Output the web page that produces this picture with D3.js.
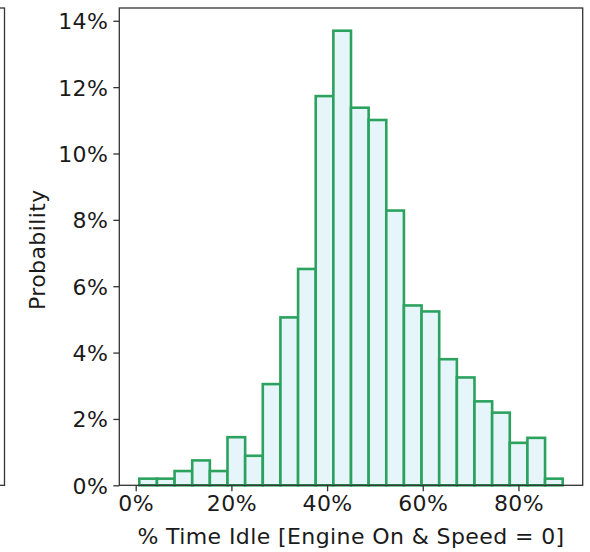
<!DOCTYPE html>
<html>
<head>
<meta charset="utf-8">
<script src="https://cdn.jsdelivr.net/npm/d3@7"></script>
<style>
  html, body { margin: 0; padding: 0; background: #fff; }
  svg { display: block; font-family: "DejaVu Sans", sans-serif; }
</style>
</head>
<body>
<svg id="chart" width="590" height="552"></svg>
<script>
// Histogram of the share of time spent idling (engine on, speed zero).
// 24 equal-width bins between binLow and binHigh (in %), heights are probabilities (%).
const binLow = 0.75;
const binHigh = 89.25;
const probabilities = [
  0.20, 0.20, 0.43, 0.75, 0.43, 1.45, 0.89, 3.05, 5.06, 6.52, 11.73, 13.70,
  11.38, 11.01, 8.28, 5.42, 5.24, 3.80, 3.25, 2.53, 2.19, 1.28, 1.43, 0.20
];
const xTicks = [0, 20, 40, 60, 80];
const yTicks = [0, 2, 4, 6, 8, 10, 12, 14];
const xLabel = "% Time Idle [Engine On & Speed = 0]";
const yLabel = "Probability";

const svg = d3.select("#chart");
const plot = { left: 119.3, right: 582.7, top: 8, bottom: 485.3 };
const fontSize = "22px";
const spacing = "0.4px";

const binWidth = (binHigh - binLow) / probabilities.length;
const bins = probabilities.map((p, i) => ({
  x0: binLow + i * binWidth,
  x1: binLow + (i + 1) * binWidth,
  p
}));

const pad = 4.18;
const x = d3.scaleLinear()
  .domain([binLow - pad, binHigh + pad])
  .range([plot.left, plot.right]);
const yMax = d3.max(probabilities) * 1.05;
const y = d3.scaleLinear()
  .domain([0, yMax])
  .range([plot.bottom, plot.top]);

// Edge of the neighbouring panel on the left
svg.append("rect")
  .attr("x", -10).attr("y", plot.top)
  .attr("width", 14.5).attr("height", plot.bottom - plot.top)
  .attr("fill", "none").attr("stroke", "#333").attr("stroke-width", 1.3);

// Bars
svg.append("g")
  .selectAll("rect")
  .data(bins)
  .join("rect")
  .attr("x", d => x(d.x0))
  .attr("y", d => y(d.p))
  .attr("width", d => x(d.x1) - x(d.x0))
  .attr("height", d => y(0) - y(d.p))
  .attr("fill", "#e5f5f9")
  .attr("stroke", "#2ca25f")
  .attr("stroke-width", 2.6);

// Axes
const fmt = d => d + "%";
const xAxis = svg.append("g")
  .attr("transform", `translate(0,${plot.bottom})`)
  .call(d3.axisBottom(x).tickValues(xTicks).tickFormat(fmt).tickSize(6).tickPadding(4));
const yAxis = svg.append("g")
  .attr("transform", `translate(${plot.left},0)`)
  .call(d3.axisLeft(y).tickValues(yTicks).tickFormat(fmt).tickSize(6).tickPadding(5));

[xAxis, yAxis].forEach(g => {
  g.select(".domain").remove();
  g.selectAll(".tick line").attr("stroke", "#333").attr("stroke-width", 1.3);
  g.selectAll(".tick text")
    .attr("fill", "#1a1a1a")
    .style("font-family", '"DejaVu Sans", sans-serif')
    .style("font-size", fontSize)
    .style("letter-spacing", spacing);
});
yAxis.selectAll(".tick text").attr("dy", "0.36em");

// Frame
svg.append("rect")
  .attr("x", plot.left).attr("y", plot.top)
  .attr("width", plot.right - plot.left).attr("height", plot.bottom - plot.top)
  .attr("fill", "none").attr("stroke", "#333").attr("stroke-width", 1.3);

// Axis titles
svg.append("text")
  .attr("x", (plot.left + plot.right) / 2)
  .attr("y", 544)
  .attr("text-anchor", "middle")
  .attr("fill", "#1a1a1a")
  .style("font-size", fontSize)
  .style("letter-spacing", spacing)
  .text(xLabel);

svg.append("text")
  .attr("transform", `translate(45,${(plot.top + plot.bottom) / 2 + 3}) rotate(-90)`)
  .attr("text-anchor", "middle")
  .attr("fill", "#1a1a1a")
  .style("font-size", fontSize)
  .style("letter-spacing", spacing)
  .text(yLabel);
</script>
</body>
</html>
